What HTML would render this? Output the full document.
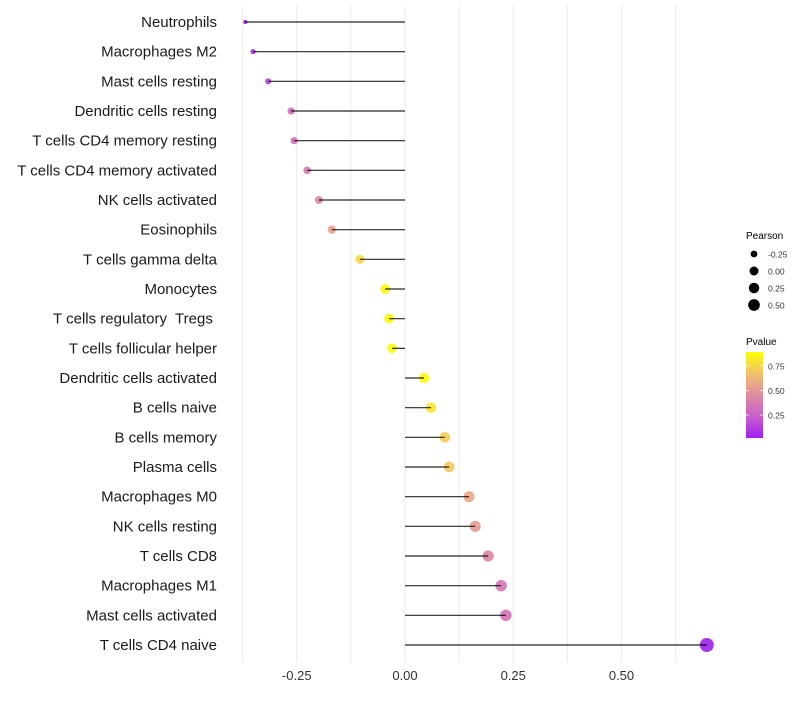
<!DOCTYPE html>
<html><head><meta charset="utf-8"><style>
body{margin:0;background:#fff;font-family:"Liberation Sans",sans-serif;}
svg text{font-family:"Liberation Sans",sans-serif;}
</style></head><body>
<svg id="chart" width="800" height="700"></svg>
<script>
const categories=["Neutrophils","Macrophages M2","Mast cells resting","Dendritic cells resting","T cells CD4 memory resting","T cells CD4 memory activated","NK cells activated","Eosinophils","T cells gamma delta","Monocytes","T cells regulatory  Tregs ","T cells follicular helper","Dendritic cells activated","B cells naive","B cells memory","Plasma cells","Macrophages M0","NK cells resting","T cells CD8","Macrophages M1","Mast cells activated","T cells CD4 naive"];
const pearson=[-0.369,-0.351,-0.316,-0.263,-0.256,-0.226,-0.199,-0.169,-0.104,-0.046,-0.037,-0.030,0.044,0.060,0.092,0.102,0.148,0.162,0.192,0.222,0.233,0.697];
const pvalue=[0.03,0.1,0.15,0.3,0.33,0.38,0.45,0.55,0.75,0.88,0.88,0.88,0.87,0.8,0.72,0.7,0.57,0.52,0.43,0.36,0.33,0.03];
const xTicks=[-0.25,0,0.25,0.5];
const xTickLabels=["-0.25","0.00","0.25","0.50"];
const gridVals=[-0.375,-0.25,-0.125,0,0.125,0.25,0.375,0.5,0.625];
const sizeLegend=[-0.25,0,0.25,0.5];
const sizeLegendLabels=["-0.25","0.00","0.25","0.50"];
const pTicks=[0.25,0.5,0.75];
const pTickLabels=["0.25","0.50","0.75"];

const NS="http://www.w3.org/2000/svg";
const svg=document.getElementById('chart');
function mk(t,a,p){const e=document.createElementNS(NS,t);for(const k in a)e.setAttribute(k,a[k]);(p||svg).appendChild(e);return e;}
const x=v=>405+v*433;
const y=i=>22+i*(623/21);
const r=v=>2+5*Math.sqrt(Math.max(0,(v+0.37)/1.07));
const stops=[[0,[160,32,240]],[0.25,[200,96,204]],[0.5,[222,140,160]],[0.75,[242,192,110]],[1,[255,255,0]]];
function col(p){const t=Math.max(0,Math.min(1,(p-0.015)/(0.893-0.015)));for(let k=1;k<stops.length;k++){if(t<=stops[k][0]){const a=stops[k-1],b=stops[k],f=(t-a[0])/(b[0]-a[0]);return 'rgb('+a[1].map((c,j)=>Math.round(c+(b[1][j]-c)*f)).join(',')+')';}}return 'rgb(255,255,0)';}

gridVals.forEach(v=>{const g=mk('line',{x1:x(v),x2:x(v),y1:5,y2:662,stroke:'#ebebeb','stroke-width':1});

});

categories.forEach((c,i)=>{
 const pt=mk('circle',{cx:x(pearson[i]),cy:y(i),r:r(pearson[i]),fill:col(pvalue[i]),'fill-opacity':0.92});
 
 
 const ln=mk('line',{x1:x(0),x2:x(pearson[i]),y1:y(i),y2:y(i),stroke:'#000','stroke-width':1.2,'stroke-opacity':0.85});
 
 
 const t=mk('text',{x:217,y:y(i)+5,'text-anchor':'end','font-size':15,fill:'#1a1a1a','xml:space':'preserve'});t.style.whiteSpace='pre';t.textContent=c;
 
 
});
xTicks.forEach((v,i)=>{const t=mk('text',{x:x(v),y:680,'text-anchor':'middle','font-size':13,fill:'#333'});t.textContent=xTickLabels[i];
 
 });

const lt=mk('text',{x:746,y:239,'font-size':10,fill:'#000'});lt.textContent='Pearson';


sizeLegend.forEach((v,i)=>{const cy=254+i*17;
 const c=mk('circle',{cx:754,cy:cy,r:r(v)*0.85+0.3,fill:'#000'});
 
 
 const t=mk('text',{x:768,y:cy+3.5,'font-size':8.5,fill:'#333'});t.textContent=sizeLegendLabels[i];
 
 });

const pt2=mk('text',{x:746,y:345,'font-size':10,fill:'#000'});pt2.textContent='Pvalue';


const defs=mk('defs',{});const lg=mk('linearGradient',{id:'pg',x1:0,y1:1,x2:0,y2:0},defs);
stops.forEach(s=>mk('stop',{offset:s[0],'stop-color':'rgb('+s[1].join(',')+')'},lg));
const bar=mk('rect',{x:746,y:352,width:17,height:86,fill:'url(#pg)'});


const py=p=>352+(0.893-p)/0.25*24.5;
pTicks.forEach((p,i)=>{mk('line',{x1:746,x2:749,y1:py(p),y2:py(p),stroke:'#fff','stroke-opacity':0.7});mk('line',{x1:760,x2:763,y1:py(p),y2:py(p),stroke:'#fff','stroke-opacity':0.7});
 const t=mk('text',{x:768,y:py(p)+3.5,'font-size':8.5,fill:'#333'});t.textContent=pTickLabels[i];
 
 });
</script>
</body></html>
